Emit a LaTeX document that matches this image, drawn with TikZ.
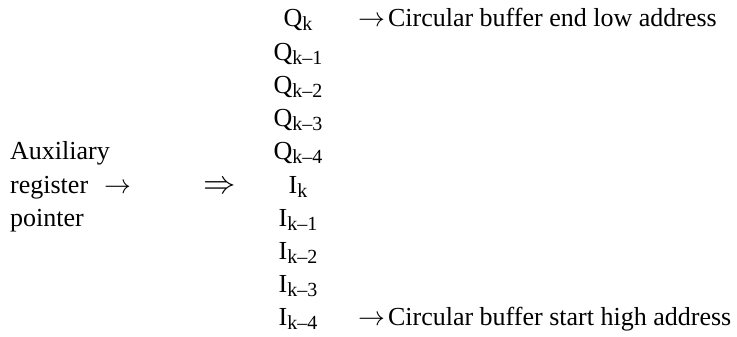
\documentclass[tikz,border=0pt]{standalone}
\usepackage{graphicx}
\usepackage{fontspec}
\setmainfont{Liberation Serif}
\newcommand\lsub[1]{\raisebox{-4pt}{\fontsize{20pt}{20pt}\selectfont #1}}
\newcommand\rarr{\scalebox{1.08}{$\rightarrow$}}
\begin{document}
\begin{tikzpicture}[x=1pt,y=-1pt,
  txt/.style={inner sep=0pt,anchor=base west,font=\fontsize{26pt}{30pt}\selectfont},
  cell/.style={inner sep=0pt,anchor=base,font=\fontsize{26pt}{30pt}\selectfont}]
\useasboundingbox (0,0) rectangle (737,337);
% buffer column
\node[cell] (q0) at (298,27)    {Q\lsub{k}};
\node[cell] (q1) at (298,60.2)  {Q\lsub{k–1}};
\node[cell] (q2) at (298,93.4)  {Q\lsub{k–2}};
\node[cell] (q3) at (298,126.6) {Q\lsub{k–3}};
\node[cell] (q4) at (298,159.8) {Q\lsub{k–4}};
\node[cell] (i0) at (298,193)   {I\lsub{k}};
\node[cell] (i1) at (298,226.2) {I\lsub{k–1}};
\node[cell] (i2) at (298,259.4) {I\lsub{k–2}};
\node[cell] (i3) at (298,292.6) {I\lsub{k–3}};
\node[cell] (i4) at (298,325.8) {I\lsub{k–4}};
% right labels
\node[txt] (endl) at (358,27) {\rarr\hspace{3pt}Circular buffer end low address};
\node[txt] (startl) at (358,325.8) {\rarr\hspace{3pt}Circular buffer start high address};
% left labels
\node[txt] (aux) at (10,159.8) {Auxiliary};
\node[txt] (reg) at (10,193) {register};
\node[txt] (regarr) at (104,193) {\rarr};
\node[txt] (ptr) at (10,226.2) {pointer};
\node[txt] (dbl) at (203,193) {\scalebox{1.3}{$\Rightarrow$}};
\end{tikzpicture}
\end{document}
